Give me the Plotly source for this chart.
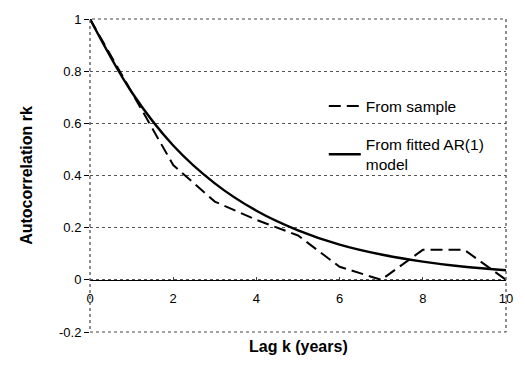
import plotly.graph_objects as go

lags = [0, 1, 2, 3, 4, 5, 6, 7, 8, 9, 10]
sample_acf = [1.0, 0.72, 0.44, 0.30, 0.23, 0.17, 0.05, 0.0, 0.115, 0.115, 0.0]
ar1_acf = [1.0, 0.72, 0.515, 0.37, 0.265, 0.19, 0.135, 0.097, 0.07, 0.05, 0.037]
x_ticks = [0, 2, 4, 6, 8, 10]
y_ticks = [-0.2, 0, 0.2, 0.4, 0.6, 0.8, 1]
y_ticklabels = ["-0.2", "0", "0.2", "0.4", "0.6", "0.8", "1"]

font = "Liberation Sans, Arial, sans-serif"

fig = go.Figure()
fig.add_trace(go.Scatter(x=lags, y=sample_acf, mode="lines", name="From sample",
                         legendgroup="a",
                         line=dict(color="black", width=2, dash="12px,6px")))
fig.add_trace(go.Scatter(x=lags, y=ar1_acf, mode="lines", name="From fitted AR(1)<br>model",
                         legendgroup="b",
                         line=dict(color="black", width=2.4, shape="spline")))

fig.update_layout(
    width=525, height=369,
    margin=dict(l=90, r=12, t=15, b=37),
    paper_bgcolor="white", plot_bgcolor="white",
    font=dict(family=font, color="black", size=13),
    showlegend=True,
    legend=dict(x=0.562, y=0.775, xanchor="left", yanchor="top",
                bgcolor="rgba(0,0,0,0)", font=dict(size=15.5, family=font),
                tracegroupgap=15, itemwidth=32),
    xaxis=dict(range=[0, 10], tickvals=x_ticks, ticktext=[str(v) for v in x_ticks],
               anchor="free", position=1/6, showline=True, linecolor="black", linewidth=1.2,
               showgrid=False, zeroline=False, ticks="inside", ticklen=3,
               ticklabelstandoff=6,
               tickfont=dict(size=13, family=font)),
    yaxis=dict(range=[-0.2, 1], tickvals=y_ticks, ticktext=y_ticklabels,
               showgrid=True, gridcolor="#555", griddash="dot", gridwidth=1,
               zeroline=False, showline=False, ticks="outside", ticklen=5,
               tickcolor="black", tickfont=dict(size=13, family=font),
               title=dict(text="<b>Autocorrelation rk</b>", font=dict(size=16, family=font), standoff=22)),
    shapes=[dict(type="rect", xref="paper", yref="paper", x0=0, y0=0, x1=1, y1=1,
                 line=dict(color="#444", width=1.2, dash="dot"))],
    annotations=[dict(text="<b>Lag k (years)</b>", xref="paper", yref="paper", x=0.5, y=-0.013,
                      xanchor="center", yanchor="top", showarrow=False,
                      font=dict(size=16, family=font))],
)
fig.write_html("out.html")
